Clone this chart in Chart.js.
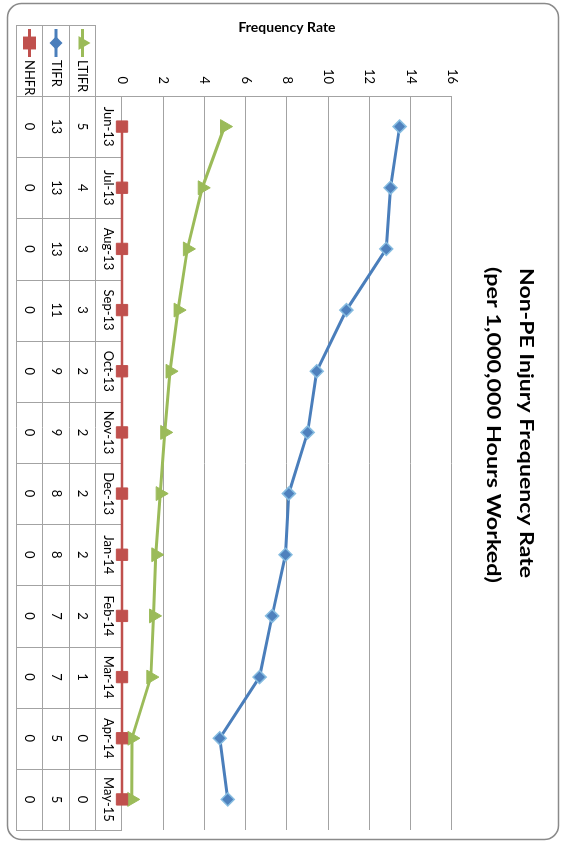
<!DOCTYPE html>
<html>
<head>
<meta charset="utf-8">
<script src="https://cdn.jsdelivr.net/npm/chart.js@4.4.0/dist/chart.umd.min.js"></script>
<style>
  html, body { margin: 0; padding: 0; background: #fff; overflow: hidden; width: 562px; height: 843px; }
  #wrap { position: absolute; left: 0; top: 0; width: 843px; height: 562px;
          transform-origin: 0 0; transform: translate(562px, 0) rotate(90deg); }
  canvas { display: block; }
</style>
</head>
<body>
<div id="wrap"><canvas id="c" width="843" height="562"></canvas></div>
<script>
// ---- data ----
const categories = ['Jun-13','Jul-13','Aug-13','Sep-13','Oct-13','Nov-13','Dec-13','Jan-14','Feb-14','Mar-14','Apr-14','May-15'];
const ltifrValues = [4.97, 3.89, 3.17, 2.72, 2.33, 2.07, 1.85, 1.64, 1.53, 1.40, 0.48, 0.47];
const tifrValues  = [13.46, 13.02, 12.81, 10.88, 9.44, 9.00, 8.09, 7.93, 7.28, 6.67, 4.74, 5.13];
const nhfrValues  = [0, 0, 0, 0, 0, 0, 0, 0, 0, 0, 0, 0];
const seriesNames = ['LTIFR', 'TIFR', 'NHFR'];
const valueTicks  = [0, 2, 4, 6, 8, 10, 12, 14, 16];
const titleLines  = ['Non-PE Injury Frequency Rate', '(per 1,000,000 Hours Worked)'];
const axisTitle   = 'Frequency Rate';

// ---- styles ----
const COLORS = { LTIFR: '#9BBB59', TIFR: '#4A7EBB', NHFR: '#C0504D' };
const GRID = '#a3a3a3';
const FONT = 'Lato';

Chart.defaults.font.family = FONT;
Chart.defaults.color = '#000';

function roundRect(ctx, x, y, w, h, r) {
  ctx.beginPath();
  ctx.moveTo(x + r, y);
  ctx.lineTo(x + w - r, y);
  ctx.arcTo(x + w, y, x + w, y + r, r);
  ctx.lineTo(x + w, y + h - r);
  ctx.arcTo(x + w, y + h, x + w - r, y + h, r);
  ctx.lineTo(x + r, y + h);
  ctx.arcTo(x, y + h, x, y + h - r, r);
  ctx.lineTo(x, y + r);
  ctx.arcTo(x, y, x + r, y, r);
  ctx.closePath();
}

function fitText(ctx, text, cx, baseline, font, width) {
  ctx.save();
  ctx.font = font;
  const w = ctx.measureText(text).width;
  ctx.translate(cx, baseline);
  ctx.scale(width / w, 1);
  ctx.textAlign = 'center';
  ctx.textBaseline = 'alphabetic';
  ctx.fillStyle = '#000';
  ctx.fillText(text, 0, 0);
  ctx.restore();
}

const tableRows = [
  { name: seriesNames[0], values: ltifrValues, color: COLORS.LTIFR, style: 'triangle', r: 5 },
  { name: seriesNames[1], values: tifrValues,  color: COLORS.TIFR,  style: 'rectRot',  r: 4.5 },
  { name: seriesNames[2], values: nhfrValues,  color: COLORS.NHFR,  style: 'rect',     r: 7 }
];

const deco = {
  id: 'deco',
  beforeDraw(chart) {
    const ctx = chart.ctx;
    ctx.save();
    ctx.fillStyle = '#fff';
    ctx.fillRect(0, 0, chart.width, chart.height);
    ctx.strokeStyle = '#8a8a8a';
    ctx.lineWidth = 1.5;
    roundRect(ctx, 3.5, 3.5, 836, 551, 14);
    ctx.stroke();
    fitText(ctx, titleLines[0], 423, 42, 'bold 19px ' + FONT, 310);
    fitText(ctx, titleLines[1], 425, 75, 'bold 19px ' + FONT, 316);
    ctx.restore();
  },
  beforeDatasetsDraw(chart) {
    const ctx = chart.ctx;
    const area = chart.chartArea;
    const xs = chart.scales.x;
    const n = categories.length;
    const rowLines = [466.5, 492.5, 519.5, 545.5];
    ctx.save();
    ctx.strokeStyle = GRID;
    ctx.lineWidth = 1;
    ctx.beginPath();
    rowLines.forEach(y => { ctx.moveTo(25, y); ctx.lineTo(area.right, y); });
    ctx.moveTo(25.5, 466); ctx.lineTo(25.5, 546);
    for (let k = 0; k <= n; k++) {
      const x = Math.round(area.left + k * (area.right - area.left) / n) + 0.5;
      ctx.moveTo(x, area.bottom + 1);
      ctx.lineTo(x, 546);
    }
    ctx.stroke();

    ctx.fillStyle = '#000';
    ctx.font = '13px ' + FONT;
    ctx.textAlign = 'center';
    ctx.textBaseline = 'middle';
    categories.forEach((c, i) => ctx.fillText(c, xs.getPixelForValue(i), 453.5));

    const centers = [479.5, 506, 532.5];
    tableRows.forEach((row, r) => {
      const y = centers[r];
      ctx.fillStyle = '#000';
      ctx.textAlign = 'center';
      row.values.forEach((v, i) => ctx.fillText(v.toFixed(0), xs.getPixelForValue(i), y));
      // legend key
      ctx.strokeStyle = row.color;
      ctx.lineWidth = 3;
      ctx.beginPath();
      ctx.moveTo(29, y); ctx.lineTo(57, y);
      ctx.stroke();
      ctx.fillStyle = row.color;
      ctx.strokeStyle = row.color;
      Chart.helpers.drawPoint(ctx, { pointStyle: row.style, radius: row.r, rotation: 0, borderWidth: 1 }, 43, y);
      ctx.fillStyle = '#000';
      ctx.textAlign = 'left';
      ctx.fillText(row.name, 60, y);
    });
    ctx.restore();
  }
};

new Chart(document.getElementById('c'), {
  type: 'line',
  data: {
    labels: categories,
    datasets: [
      { label: seriesNames[0], data: ltifrValues, order: 2,
        borderColor: COLORS.LTIFR, backgroundColor: COLORS.LTIFR, borderWidth: 3,
        pointStyle: 'triangle', pointRadius: 8, pointBackgroundColor: '#9BBB59', pointBorderColor: '#9BBB59', pointBorderWidth: 1,
        tension: 0, clip: false },
      { label: seriesNames[1], data: tifrValues, order: 1,
        borderColor: COLORS.TIFR, backgroundColor: '#4F81BD', borderWidth: 3,
        pointStyle: 'rectRot', pointRadius: 6.5, pointBackgroundColor: '#4F81BD', pointBorderColor: '#86BCE0', pointBorderWidth: 1.5,
        tension: 0, clip: false },
      { label: seriesNames[2], data: nhfrValues, order: 0,
        borderColor: COLORS.NHFR, backgroundColor: COLORS.NHFR, borderWidth: 2.5,
        pointStyle: 'rect', pointRadius: 8, pointBackgroundColor: COLORS.NHFR, pointBorderColor: COLORS.NHFR, pointBorderWidth: 1,
        tension: 0, clip: false }
    ]
  },
  options: {
    responsive: false,
    animation: false,
    devicePixelRatio: 1,
    layout: { padding: { top: 110, right: 13, bottom: 0, left: 0 } },
    plugins: { legend: { display: false }, tooltip: { enabled: false }, title: { display: false } },
    scales: {
      x: {
        type: 'category',
        offset: true,
        grid: { display: false, drawTicks: false },
        border: { display: true, color: GRID, width: 1 },
        ticks: { display: false },
        afterFit(s) { s.height = 122; }
      },
      y: {
        min: valueTicks[0],
        max: valueTicks[valueTicks.length - 1],
        afterBuildTicks(s) { s.ticks = valueTicks.map(v => ({ value: v })); },
        grid: { color: GRID, drawTicks: false, lineWidth: 1 },
        border: { display: true, color: GRID, width: 1 },
        ticks: { padding: 12, font: { size: 13, family: FONT }, color: '#000' },
        title: { display: true, text: axisTitle, font: { size: 14, weight: 'bold', family: FONT }, color: '#000', padding: { top: 19, bottom: 0 } },
        afterFit(s) { s.width = 96; }
      }
    }
  },
  plugins: [deco]
});
</script>
</body>
</html>
